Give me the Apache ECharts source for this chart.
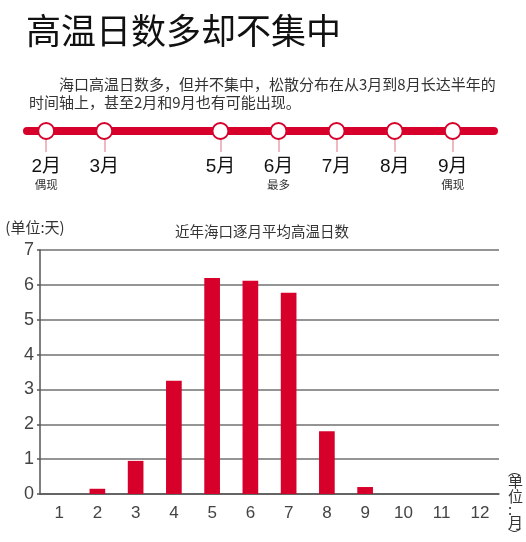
<!DOCTYPE html>
<html>
<head>
<meta charset="utf-8">
<script src="https://cdn.jsdelivr.net/npm/echarts@6/dist/echarts.min.js"></script>
<style>
html,body{margin:0;padding:0;background:#fff;}
#main{width:526px;height:542px;}
</style>
</head>
<body>
<div id="main"></div>
<script>
// 柱状图数据
var months = ['1','2','3','4','5','6','7','8','9','10','11','12'];
var days = [0, 0.15, 0.95, 3.25, 6.2, 6.12, 5.77, 1.8, 0.2, 0, 0, 0];
var yTicks = [0, 1, 2, 3, 4, 5, 6, 7];

// 时间轴
var timelineMonths = [2, 3, 5, 6, 7, 8, 9];
var timelineNotes = ['偶现', '', '', '最多', '', '', '偶现'];

var RED = '#d6002b';
var CJK = 'Noto Sans CJK SC';
var NUM = 'Liberation Sans, Noto Sans CJK SC';

var option = {
    animation: false,
    backgroundColor: '#fff',
    textStyle: { fontFamily: CJK },
    title: [{
        text: '高温日数多却不集中',
        left: 21, top: 8,
        textStyle: { fontSize: 35, fontWeight: 'normal', color: '#111', fontFamily: CJK }
    }, {
        text: '\u3000\u3000海口高温日数多，但并不集中，松散分布在从3月到8月长达半年的\n时间轴上，甚至2月和9月也有可能出现。',
        left: 24, top: 70,
        textStyle: { fontSize: 15, fontWeight: 'normal', color: '#333', lineHeight: 18, fontFamily: CJK }
    }, {
        text: '近年海口逐月平均高温日数',
        left: 257, top: 219, textAlign: 'center',
        textStyle: { fontSize: 14.5, fontWeight: 'normal', color: '#333', fontFamily: CJK }
    }],
    grid: [
        { left: 40, right: 27, top: 250, bottom: 48 },
        { left: 27, right: 32, top: 111, height: 20 }
    ],
    xAxis: [{
        gridIndex: 0,
        type: 'category',
        data: months,
        name: '{p|︵}\n{c|单}\n{c|位}\n{d|:}\n{c|月}\n{p|︶}',
        nameLocation: 'end',
        nameGap: 9,
        nameTextStyle: {
            padding: [16, 0, 0, 0],
            rich: {
                p: { fontSize: 13, lineHeight: 8, color: '#333', fontFamily: CJK },
                c: { fontSize: 15, lineHeight: 15, color: '#333', fontFamily: CJK },
                d: { fontSize: 15, lineHeight: 11, color: '#333', fontFamily: CJK }
            }
        },
        axisLine: { lineStyle: { color: '#555', width: 1.5 } },
        axisTick: { length: 5, lineStyle: { color: '#555', width: 1.5 } },
        axisLabel: { margin: 11, fontSize: 17, color: '#444', fontFamily: NUM }
    }, {
        gridIndex: 1,
        type: 'value',
        min: 1.67, max: 9.71,
        splitLine: { show: false },
        axisLine: { onZero: false, lineStyle: { color: RED, width: 8, cap: 'round' } },
        axisTick: {
            customValues: timelineMonths,
            length: 21,
            lineStyle: { color: '#eaa3af', width: 1.5 }
        },
        axisLabel: {
            customValues: timelineMonths,
            margin: 25,
            formatter: function (v) {
                var i = timelineMonths.indexOf(v);
                var note = i >= 0 ? timelineNotes[i] : '';
                return '{m|' + v + '月}\n{n|' + (note || ' ') + '}';
            },
            rich: {
                m: { fontSize: 19, lineHeight: 21, color: '#111', fontFamily: NUM },
                n: { fontSize: 11.5, lineHeight: 15, color: '#333', fontFamily: CJK }
            }
        }
    }],
    yAxis: [{
        gridIndex: 0,
        type: 'value',
        min: 0, max: 7, interval: 1,
        name: '(单位:天)',
        nameLocation: 'end',
        nameGap: 15,
        nameTextStyle: { fontSize: 15, color: '#333', align: 'center', padding: [0, 10, 0, 0], fontFamily: CJK },
        axisLine: { show: true, lineStyle: { color: '#555', width: 1.5 } },
        axisTick: { show: true, length: 3, lineStyle: { color: '#555', width: 1.5 } },
        axisLabel: {
            margin: 6, fontSize: 18, color: '#444', fontFamily: NUM,
            formatter: function (v) { return yTicks.indexOf(v) >= 0 ? String(v) : ''; }
        },
        splitLine: { lineStyle: { color: '#707070', width: 1.5 } }
    }, {
        gridIndex: 1,
        type: 'value',
        min: 0, max: 1,
        show: false
    }],
    series: [{
        type: 'bar',
        xAxisIndex: 0, yAxisIndex: 0,
        data: days,
        barWidth: '41%',
        itemStyle: { color: RED }
    }, {
        type: 'scatter',
        xAxisIndex: 1, yAxisIndex: 1,
        clip: false,
        symbol: 'circle',
        symbolSize: 16,
        data: timelineMonths.map(function (m) { return [m, 0]; }),
        itemStyle: { color: '#fff', borderColor: RED, borderWidth: 2, opacity: 1 },
        z: 5
    }]
};

var myChart = echarts.init(document.getElementById('main'));
myChart.setOption(option);
</script>
</body>
</html>
